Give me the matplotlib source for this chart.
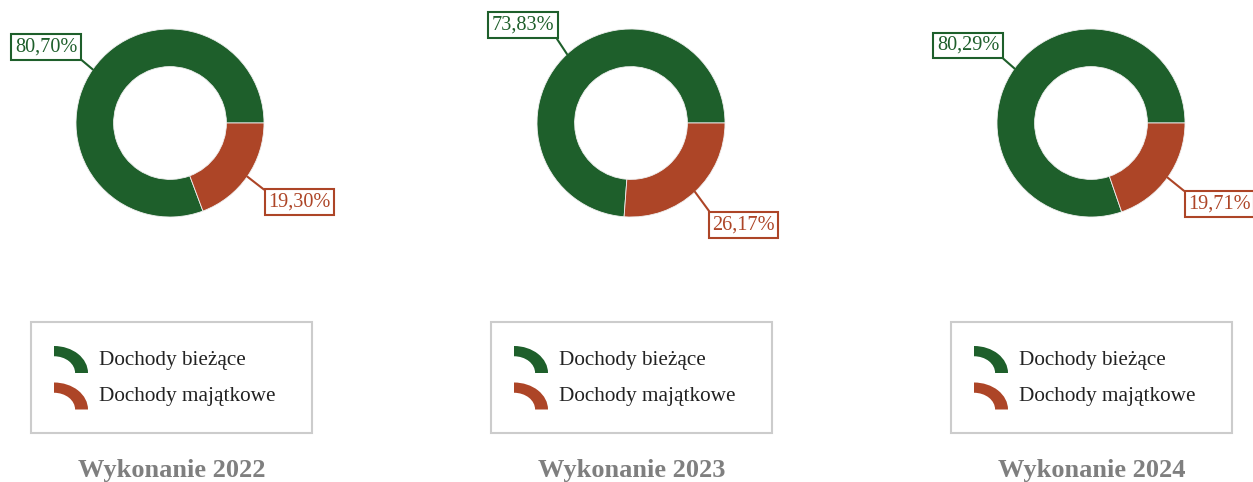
import matplotlib
matplotlib.use("Agg")
import matplotlib.pyplot as plt
from matplotlib.patches import Wedge, Rectangle
from matplotlib.transforms import Affine2D
import numpy as np

years = ["2022", "2023", "2024"]
categories = ["Dochody bieżące", "Dochody majątkowe"]
biezace = [80.70, 73.83, 80.29]
majatkowe = [19.30, 26.17, 19.71]
colors = ["#1e5f2b", "#ad4527"]

W, H = 1253, 482
fig = plt.figure(figsize=(W / 100, H / 100), dpi=100)
SERIF = ["Liberation Serif", "DejaVu Serif"]

bg = fig.add_axes([0, 0, 1, 1])
bg.set_xlim(0, W)
bg.set_ylim(H, 0)
bg.axis("off")

centers_x = [170, 631, 1091]
legend_x = [31, 491, 951]
cy = 123
R = 94
half = 100

for i, year in enumerate(years):
    cx = centers_x[i]
    ax = fig.add_axes([(cx - half) / W, 1 - (cy + half) / H, 2 * half / W, 2 * half / H])
    vals = [biezace[i], majatkowe[i]]
    wedges, _ = ax.pie(vals, colors=colors, startangle=0, counterclock=True, radius=1,
                       wedgeprops=dict(width=0.4, edgecolor="#f0f0f0", linewidth=0.6))
    ax.set_xlim(-half / R, half / R)
    ax.set_ylim(-half / R, half / R)
    ax.set_aspect("equal")
    ax.axis("off")
    for w, v, c in zip(wedges, vals, colors):
        th = np.deg2rad((w.theta1 + w.theta2) / 2)
        x, y = np.cos(th), np.sin(th)
        left = x < 0
        if left:
            tx, ty = 1.2 * x, 1.42 * y
        else:
            tx, ty = 1.27 * x, 1.48 * y
        ax.annotate(f"{v:.2f}%".replace(".", ","), xy=(x, y), xytext=(tx, ty),
                    ha="right" if left else "left", va="center", fontsize=14.6,
                    family=SERIF, color=c,
                    bbox=dict(boxstyle="square,pad=0.17", fc="white", ec=c, lw=1.5),
                    arrowprops=dict(arrowstyle="-", color=c, lw=1.5, shrinkA=0, shrinkB=0,
                                    relpos=(1, 0) if left else (0, 1)),
                    annotation_clip=False)

    # legend
    x0 = legend_x[i]
    bg.add_patch(Rectangle((x0, 322), 281, 111, fill=False, ec="#cccccc", lw=1.5))
    for j, (cat, col) in enumerate(zip(categories, colors)):
        base = 365 + 36.5 * j
        tr = Affine2D().scale(34, -27).translate(x0 + 23, base + 8) + bg.transData
        bg.add_patch(Wedge((0, 0), 1, 0, 90, width=0.38, fc=col, ec="none", transform=tr))
        bg.text(x0 + 68, base, cat, ha="left", va="baseline", fontsize=15.3,
                family=SERIF, color="#222222")

    bg.text(x0 + 140.5, 476.5, f"Wykonanie {year}", ha="center", va="baseline", fontsize=19,
            fontweight="bold", family=SERIF, color="#7f7f7f")

fig.savefig("out.png", dpi=100)
